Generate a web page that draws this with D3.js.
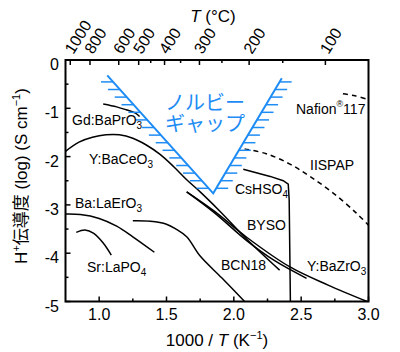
<!DOCTYPE html>
<html>
<head>
<meta charset="utf-8">
<script src="https://cdn.jsdelivr.net/npm/d3@7"></script>
<style>
  body { margin: 0; background: #fff; }
  svg { display: block; }
  text { font-family: "Liberation Sans", Arial, "Noto Sans CJK JP", sans-serif; }
</style>
</head>
<body>
<svg id="chart"></svg>
<script>
// axis values
const xDomain = [0.75, 3.0];
const yDomain = [-5, 0];
const xMajorTicks = [1.0, 1.5, 2.0, 2.5, 3.0];
const xMinorTicks = [1.25, 1.75, 2.25, 2.75];
const yMajorTicks = [0, -1, -2, -3, -4, -5];
const yMinorTicks = [-0.5, -1.5, -2.5, -3.5, -4.5];
const topMajorC = [1000, 800, 600, 500, 400, 300, 200, 100];
const topMinorC = [450, 350, 250, 150];

// curves, [1000/T, log sigma]
const gdBaPrO3 = [[1.03, -0.91], [1.13, -0.97], [1.20, -1.03], [1.27, -1.10], [1.30, -1.17]];
const yBaCeO3 = [[0.75, -1.89], [0.85, -1.70], [0.95, -1.60], [1.05, -1.55], [1.15, -1.55],
  [1.25, -1.62], [1.35, -1.76], [1.45, -1.95], [1.55, -2.20], [1.65, -2.48], [1.75, -2.73],
  [1.90, -3.14], [2.10, -3.72], [2.34, -4.35]];
const baLaErO3 = [[0.75, -3.19], [0.86, -3.20], [1.00, -3.28], [1.13, -3.44], [1.25, -3.66], [1.41, -3.98]];
const srLaPO4 = [[0.83, -3.57], [0.895, -3.52], [0.96, -3.59], [1.03, -3.79], [1.09, -4.04]];
const bcn18 = [[1.25, -3.33], [1.38, -3.34], [1.50, -3.40], [1.57, -3.50], [1.65, -3.66],
  [1.75, -4.06], [1.91, -4.51], [2.08, -5.0]];
const byso = [[1.65, -2.73], [1.85, -3.15], [2.10, -3.75], [2.30, -4.15], [2.54, -4.52]];
const yBaZrO3 = [[1.65, -2.73], [1.85, -3.12], [2.10, -3.68], [2.42, -4.29], [2.70, -4.66], [2.99, -5.0]];
const csHSO4 = [[2.07, -2.26], [2.27, -2.41], [2.367, -2.50], [2.404, -2.57], [2.411, -2.90], [2.42, -5.0]];
const iispap = [[2.08, -1.84], [2.24, -1.94], [2.42, -2.16], [2.57, -2.42], [2.74, -2.76], [2.91, -3.17], [3.0, -3.42]];
const nafion = [[2.81, -0.70], [2.90, -0.74], [3.0, -0.82]];
const gapV = [[1.06, -0.32], [1.847, -2.76], [2.356, -0.38]];

const width = 400, height = 352;
const svg = d3.select("#chart").attr("width", width).attr("height", height);

const x = d3.scaleLinear(xDomain, [65.5, 368.5]);
const y = d3.scaleLinear(yDomain, [301.5, 60]);
const xC = c => x(1000 / (c + 273.15));

const blue = "#1e8cf5";

// frame
svg.append("rect")
    .attr("x", x(xDomain[0])).attr("y", y(0))
    .attr("width", x(xDomain[1]) - x(xDomain[0]))
    .attr("height", y(-5) - y(0))
    .attr("fill", "none").attr("stroke", "#000").attr("stroke-width", 2);

// ticks drawn inward
const tickG = svg.append("g").attr("stroke", "#000").attr("stroke-width", 1.5);
xMajorTicks.concat(xMinorTicks).forEach(v => {
    const len = xMajorTicks.includes(v) ? 5 : 3;
    tickG.append("line").attr("x1", x(v)).attr("x2", x(v)).attr("y1", y(-5)).attr("y2", y(-5) - len);
});
yMajorTicks.concat(yMinorTicks).forEach(v => {
    const len = yMajorTicks.includes(v) ? 5 : 3;
    tickG.append("line").attr("x1", x(0.75)).attr("x2", x(0.75) + len).attr("y1", y(v)).attr("y2", y(v));
});
topMajorC.concat(topMinorC).forEach(c => {
    const len = topMajorC.includes(c) ? 5 : 3;
    tickG.append("line").attr("x1", xC(c)).attr("x2", xC(c)).attr("y1", y(0)).attr("y2", y(0) + len);
});

// tick labels
svg.append("g").selectAll("text").data(xMajorTicks).join("text")
    .attr("x", d => x(d)).attr("y", 320)
    .attr("text-anchor", "middle").attr("font-size", 16)
    .text(d => d.toFixed(1));
svg.append("g").selectAll("text").data(yMajorTicks).join("text")
    .attr("x", 59).attr("y", d => y(d) + 10)
    .attr("text-anchor", "end").attr("font-size", 16)
    .text(d => d === 0 ? "0" : "-" + Math.abs(d));
svg.append("g").selectAll("text").data(topMajorC).join("text")
    .attr("transform", d => `translate(${xC(d) + 3},55) rotate(-58)`)
    .attr("font-size", 16)
    .text(d => d);

// axis titles
const xt = svg.append("text").attr("x", 217).attr("y", 346).attr("text-anchor", "middle").attr("font-size", 17);
xt.append("tspan").text("1000 / ");
xt.append("tspan").attr("font-style", "italic").text("T");
xt.append("tspan").text(" (K");
xt.append("tspan").attr("font-size", 11).attr("dy", -7).text("−1");
xt.append("tspan").attr("dy", 7).text(")");

const tt = svg.append("text").attr("x", 213).attr("y", 22).attr("text-anchor", "middle").attr("font-size", 17);
tt.append("tspan").attr("font-style", "italic").text("T");
tt.append("tspan").text(" (°C)");

const yt = svg.append("text").attr("transform", "translate(27,176) rotate(-90)")
    .attr("text-anchor", "middle").attr("font-size", 17);
yt.append("tspan").text("H");
yt.append("tspan").attr("font-size", 11).attr("dy", -7).text("+");
yt.append("tspan").attr("dy", 7).text("伝導度 (log) (S cm");
yt.append("tspan").attr("font-size", 11).attr("dy", -7).text("−1");
yt.append("tspan").attr("dy", 7).text(")");

// curves
const smooth = d3.line().x(d => x(d[0])).y(d => y(d[1])).curve(d3.curveCatmullRom.alpha(0.5));
const straight = d3.line().x(d => x(d[0])).y(d => y(d[1]));

const series = [
    { pts: gdBaPrO3 }, { pts: yBaCeO3 }, { pts: baLaErO3 }, { pts: srLaPO4 },
    { pts: bcn18 }, { pts: byso }, { pts: yBaZrO3 },
    { pts: csHSO4, linear: true },
    { pts: iispap, dash: true }, { pts: nafion, dash: true }
];
svg.append("g").selectAll("path").data(series).join("path")
    .attr("d", d => (d.linear ? straight : smooth)(d.pts))
    .attr("fill", "none").attr("stroke", "#000").attr("stroke-width", 1.5)
    .attr("stroke-dasharray", d => d.dash ? "5,4" : null);

// Norby gap V with hatching
const gapG = svg.append("g").attr("stroke", blue).attr("fill", "none");
gapG.append("path").attr("d", straight(gapV)).attr("stroke-width", 2);
const arms = [[gapV[1], gapV[0], -1], [gapV[1], gapV[2], 1]];
arms.forEach(([p0, p1, dir]) => {
    const x0 = x(p0[0]), y0 = y(p0[1]), x1 = x(p1[0]), y1 = y(p1[1]);
    for (let yy = y0 - 5; yy > y1 + 3; yy -= 7.6) {
        const xx = x0 + (x1 - x0) * (yy - y0) / (y1 - y0);
        gapG.append("line").attr("x1", xx).attr("x2", xx + dir * 12)
            .attr("y1", yy).attr("y2", yy).attr("stroke-width", 1.5);
    }
});
const gapText = svg.append("g").attr("fill", blue).attr("font-size", 20)
    .style("font-family", "'Noto Sans CJK JP', sans-serif");
gapText.append("text").attr("x", 165).attr("y", 110).text("ノルビー");
gapText.append("text").attr("x", 165).attr("y", 131).text("ギャップ");

// curve labels
function label(px, py, main, sub, sup, tail) {
    const t = svg.append("text").attr("x", px).attr("y", py).attr("font-size", 14);
    t.append("tspan").text(main);
    if (sub) t.append("tspan").attr("font-size", 10).attr("dy", 4).text(sub);
    if (sup) {
        t.append("tspan").attr("font-size", 9).attr("dy", -7).text(sup);
        t.append("tspan").attr("dy", 7).text(tail);
    }
}
label(72, 125, "Gd:BaPrO", "3");
label(89, 164, "Y:BaCeO", "3");
label(75, 208, "Ba:LaErO", "3");
label(87, 272, "Sr:LaPO", "4");
label(235, 194, "CsHSO", "4");
label(247, 230, "BYSO");
label(221, 270, "BCN18");
label(307, 271, "Y:BaZrO", "3");
label(296, 114, "Nafion", null, "®", "117");
label(310, 170, "IISPAP");
</script>
</body>
</html>
